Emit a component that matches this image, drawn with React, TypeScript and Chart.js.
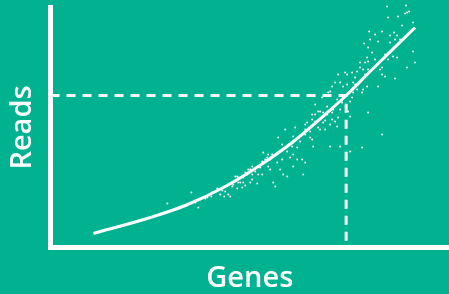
import React, { useEffect, useRef } from "react";
import { Chart, registerables } from "chart.js";

Chart.register(...registerables);

// Axis titles
const xTitle = "Genes";
const yTitle = "Reads";

// Fitted curve (genes -> reads)
const curveGenes = [43, 100, 135, 175, 208, 242, 275, 296, 320, 365];
const curveReads = [14, 30, 42, 61, 81, 105, 133, 152, 176, 220];

// Highlighted point on the curve (dashed guides)
const markerGenes = 296;
const markerReads = 152;

// Observed samples
const sampleGenes = [
  117, 141, 148, 150, 153, 157, 161, 162, 167, 170, 174, 175, 178, 180, 182, 183, 187, 187, 188, 188,
  192, 193, 195, 197, 200, 200, 202, 202, 205, 207, 210, 212, 212, 213, 185, 190, 195, 198, 202, 208,
  145, 155, 163, 172, 177, 193, 215, 220,
  217, 218, 218, 220, 222, 223, 225, 227, 228, 230, 232, 232, 233, 235, 237, 237, 240, 242, 243, 243,
  243, 245, 247, 247, 250, 252, 253, 255, 255, 255, 255, 257, 260, 260, 262, 262, 262, 263, 265, 265,
  265, 268, 268, 270, 270, 272, 273, 273, 275, 275, 277, 277, 278, 280, 280, 280, 282, 282, 282, 283,
  285, 285, 287, 287, 288, 288, 290, 290, 290, 292, 293, 295, 297, 297, 298, 300, 300, 300, 302, 302,
  303, 303, 305, 307, 307, 310, 310, 312, 312, 313, 313, 314, 315, 317, 317, 318, 318, 318, 318, 319,
  320, 322, 325, 328, 328, 330, 332, 332, 332, 332, 335, 337, 338, 338, 340, 340, 343, 344, 345, 345,
  347, 347, 348, 350, 352, 355, 356, 357, 357, 359, 363, 363, 365, 305, 325, 335, 315
];
const sampleReads = [
  44, 55, 40, 48, 50, 50, 51, 55, 59, 53, 51, 56, 53, 51, 61, 63, 59, 71, 70, 65,
  60, 65, 62, 73, 78, 65, 73, 81, 76, 64, 80, 73, 86, 95, 71, 65, 75, 78, 68, 73,
  45, 49, 55, 57, 62, 70, 88, 88,
  90, 93, 81, 78, 93, 65, 61, 85, 110, 78, 103, 88, 73, 118, 96, 71, 90, 101, 111, 93,
  81, 120, 100, 88, 106, 88, 73, 118, 85, 123, 113, 125, 110, 116, 128, 133, 108, 101, 133, 143,
  126, 136, 120, 118, 136, 150, 135, 125, 118, 127, 133, 141, 155, 101, 123, 156, 128, 135, 161, 138,
  165, 126, 148, 121, 173, 130, 138, 101, 165, 145, 161, 175, 163, 173, 136, 146, 131, 96, 175, 150,
  155, 165, 170, 176, 158, 180, 185, 155, 100, 158, 178, 204, 185, 161, 190, 178, 186, 200, 135, 216,
  208, 195, 213, 206, 161, 178, 216, 180, 173, 113, 171, 241, 230, 188, 212, 205, 191, 215, 169, 208,
  190, 212, 231, 208, 222, 234, 242, 235, 180, 236, 225, 196, 185, 163, 188, 193, 173
];

const BG = "#00B290";
const FONT = "'Open Sans', 'Noto Sans', sans-serif";

export default function App() {
  const canvasRef = useRef<HTMLCanvasElement | null>(null);

  useEffect(() => {
    document.body.style.margin = "0";
    document.body.style.background = BG;
    const canvas = canvasRef.current;
    if (!canvas) return;

    const samples = sampleGenes.map((g, i) => ({ x: g, y: sampleReads[i] }));
    const curve = curveGenes.map((g, i) => ({ x: g, y: curveReads[i] }));
    const guides = [
      { x: 0, y: markerReads },
      { x: markerGenes, y: markerReads },
      { x: markerGenes, y: 0 },
    ];

    const chart = new Chart(canvas, {
      type: "scatter",
      data: {
        datasets: [
          {
            data: curve,
            showLine: true,
            borderColor: "#ffffff",
            borderWidth: 3,
            pointRadius: 0,
            cubicInterpolationMode: "monotone",
            clip: false,
          },
          {
            data: guides,
            showLine: true,
            borderColor: "#ffffff",
            borderWidth: 3,
            borderDash: [9, 7],
            pointRadius: 0,
            tension: 0,
            clip: false,
          },
          {
            data: samples,
            showLine: false,
            pointRadius: 1,
            borderWidth: 0,
            backgroundColor: "rgba(255,255,255,0.95)",
            clip: false,
          },
        ],
      },
      options: {
        responsive: false,
        animation: false,
        events: [],
        layout: {
          autoPadding: false,
          padding: { top: 7.5, right: 0, bottom: 0, left: 0 },
        },
        plugins: {
          legend: { display: false },
          tooltip: { enabled: false },
          title: { display: false },
        },
        scales: {
          x: {
            type: "linear",
            min: 0,
            max: 399,
            grid: { display: false, drawTicks: false },
            ticks: { display: false },
            border: { display: true, color: "#ffffff", width: 5 },
            title: {
              display: true,
              text: xTitle,
              color: "#ffffff",
              font: { family: FONT, size: 29, weight: "600", lineHeight: 1 },
              padding: { top: 17, bottom: 0.5 },
            },
          },
          y: {
            type: "linear",
            min: 0,
            max: 240,
            grid: { display: false, drawTicks: false },
            ticks: { display: false },
            border: { display: true, color: "#ffffff", width: 5 },
            title: {
              display: true,
              text: yTitle,
              color: "#ffffff",
              font: { family: FONT, size: 29, weight: "600", lineHeight: 1 },
              padding: { top: 8.5, bottom: 13 },
            },
          },
        },
      },
    });
    return () => chart.destroy();
  }, []);

  return (
    <div style={{ position: "fixed", left: 0, top: 0, width: 449, height: 294, background: BG }}>
      <canvas ref={canvasRef} width={449} height={294} style={{ display: "block", width: 449, height: 294 }} />
    </div>
  );
}
